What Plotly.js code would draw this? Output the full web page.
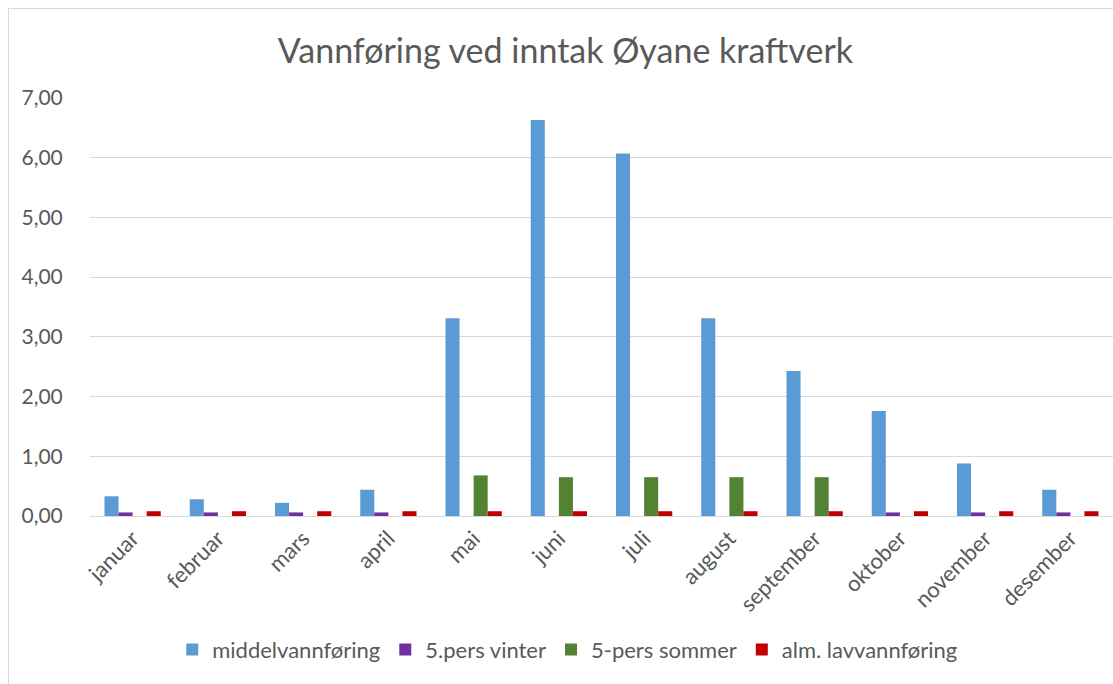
<!DOCTYPE html>
<html><head><meta charset="utf-8">
<script src="https://cdn.plot.ly/plotly-3.0.1.min.js"></script>
<style>
html,body{margin:0;padding:0;background:#fff;}
#wrap{position:relative;width:1113px;height:684px;overflow:hidden;}
#frame{position:absolute;left:8px;top:8px;width:1120px;height:700px;border:1px solid #D9D9D9;box-sizing:border-box;pointer-events:none;z-index:5;}
#chart{position:absolute;left:0;top:0;width:1113px;height:684px;}
</style>
</head><body>
<div id="wrap"><div id="chart"></div><div id="frame"></div></div>
<script>
const months = ["januar","februar","mars","april","mai","juni","juli","august","september","oktober","november","desember"];
const middelvannforing = [0.33,0.28,0.22,0.44,3.31,6.63,6.07,3.31,2.43,1.76,0.88,0.44];
const persVinter = [0.06,0.06,0.06,0.06,null,null,null,null,null,0.06,0.06,0.06];
const persSommer = [null,null,null,null,0.68,0.65,0.65,0.65,0.65,null,null,null];
const almLavvannforing = [0.08,0.08,0.08,0.08,0.08,0.08,0.08,0.08,0.08,0.08,0.08,0.08];
const seriesNames = ["middelvannføring","5.pers vinter","5-pers sommer","alm. lavvannføring"];
const colors = ["#5B9BD5","#7030A0","#548235","#C00000"];
const seriesData = [middelvannforing, persVinter, persSommer, almLavvannforing];
const font = "Lato, 'Open Sans', sans-serif";
const traces = seriesData.map((d,i)=>({
  type:"bar", x:months, y:d, name:seriesNames[i],
  marker:{color:colors[i], line:{width:0}}, hoverinfo:"none"
}));
const layout = {
  width:1113, height:684,
  paper_bgcolor:"#fff", plot_bgcolor:"#fff",
  separators:", ",
  margin:{l:90, r:0, t:98, b:168},
  title:{text:"Vannføring ved inntak Øyane kraftverk", font:{family:font, size:34, color:"#595959"}, x:0.508, xref:"container", xanchor:"center", y:0.925, yref:"container", yanchor:"middle"},
  barmode:"group", bargap:0.34, bargroupgap:0,
  xaxis:{tickangle:-45, tickfont:{family:font, size:22, color:"#595959"}, showgrid:false, showline:true, linecolor:"#D9D9D9", linewidth:1, ticks:"", fixedrange:true},
  yaxis:{range:[0,7], dtick:1, tickformat:".2f", tickfont:{family:font, size:21, color:"#595959"}, gridcolor:"#D9D9D9", gridwidth:1, zeroline:false, showline:false, ticks:"outside", ticklen:22, tickcolor:"rgba(0,0,0,0)", fixedrange:true},
  legend:{orientation:"h", x:0.467, xanchor:"center", y:-0.32, yanchor:"middle", font:{family:font, size:22, color:"#595959"}, itemwidth:30, traceorder:"normal"},
  showlegend:true
};
Plotly.newPlot("chart", traces, layout, {displayModeBar:false, staticPlot:true});
</script>
</body></html>
